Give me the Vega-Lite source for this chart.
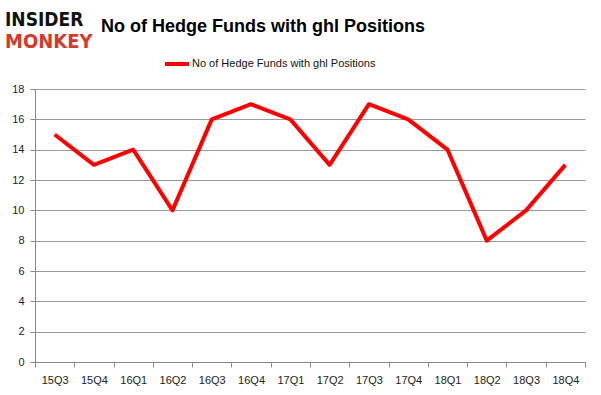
{
  "$schema": "https://vega.github.io/schema/vega-lite/v6.json",
  "width": 550,
  "height": 273,
  "autosize": "none",
  "padding": {"left": 35, "top": 89, "right": 16, "bottom": 33},
  "background": "white",
  "config": {"view": {"stroke": null}, "font": "Liberation Sans"},
  "title": {
    "text": "No of Hedge Funds with ghl Positions",
    "font": "Liberation Sans",
    "fontSize": 18,
    "fontWeight": "bold",
    "color": "#000000",
    "anchor": "start",
    "frame": "group",
    "dx": 66,
    "offset": -25
  },
  "data": {
    "values": [
      {"quarter": "15Q3", "funds": 15},
      {"quarter": "15Q4", "funds": 13},
      {"quarter": "16Q1", "funds": 14},
      {"quarter": "16Q2", "funds": 10},
      {"quarter": "16Q3", "funds": 16},
      {"quarter": "16Q4", "funds": 17},
      {"quarter": "17Q1", "funds": 16},
      {"quarter": "17Q2", "funds": 13},
      {"quarter": "17Q3", "funds": 17},
      {"quarter": "17Q4", "funds": 16},
      {"quarter": "18Q1", "funds": 14},
      {"quarter": "18Q2", "funds": 8},
      {"quarter": "18Q3", "funds": 10},
      {"quarter": "18Q4", "funds": 13}
    ]
  },
  "layer": [
    {
      "mark": {"type": "line", "strokeWidth": 4, "strokeJoin": "round"},
      "encoding": {
        "x": {
          "field": "quarter",
          "type": "ordinal",
          "sort": null,
          "bandPosition": 0.5,
          "scale": {"type": "band", "paddingInner": 0, "paddingOuter": 0},
          "axis": {
            "title": null,
            "labelAngle": 0,
            "tickBand": "extent",
            "domainColor": "#888888",
            "tickColor": "#888888",
            "tickSize": 5,
            "labelFontSize": 11,
            "labelColor": "#222222",
            "labelPadding": 7
          }
        },
        "y": {
          "field": "funds",
          "type": "quantitative",
          "scale": {"domain": [0, 18]},
          "axis": {
            "title": null,
            "values": [0, 2, 4, 6, 8, 10, 12, 14, 16, 18],
            "gridColor": "#999999",
            "domainColor": "#888888",
            "tickColor": "#888888",
            "tickSize": 5,
            "labelFontSize": 11,
            "labelColor": "#222222",
            "labelPadding": 6
          }
        },
        "color": {
          "datum": "No of Hedge Funds with ghl Positions",
          "type": "nominal",
          "scale": {"range": ["#ff0000"]},
          "legend": {
            "title": null,
            "orient": "none",
            "legendX": 128,
            "legendY": -39,
            "symbolType": "stroke",
            "symbolStrokeWidth": 4,
            "symbolSize": 576,
            "labelFontSize": 11,
            "labelColor": "#111111",
            "labelOffset": 1,
            "labelLimit": 400
          }
        }
      }
    },
    {
      "data": {"values": [{"t": "INSIDER"}]},
      "mark": {"type": "text", "font": "DejaVu Sans Condensed", "fontWeight": "bold", "fontSize": 19, "align": "left", "baseline": "alphabetic", "color": "#111111"},
      "encoding": {"text": {"field": "t"}, "x": {"value": -30}, "y": {"value": -63}}
    },
    {
      "data": {"values": [{"t": "MONKEY"}]},
      "mark": {"type": "text", "font": "DejaVu Sans Condensed", "fontWeight": "bold", "fontSize": 20, "align": "left", "baseline": "alphabetic", "color": "#d33a2c"},
      "encoding": {"text": {"field": "t"}, "x": {"value": -30}, "y": {"value": -41}}
    }
  ]
}
